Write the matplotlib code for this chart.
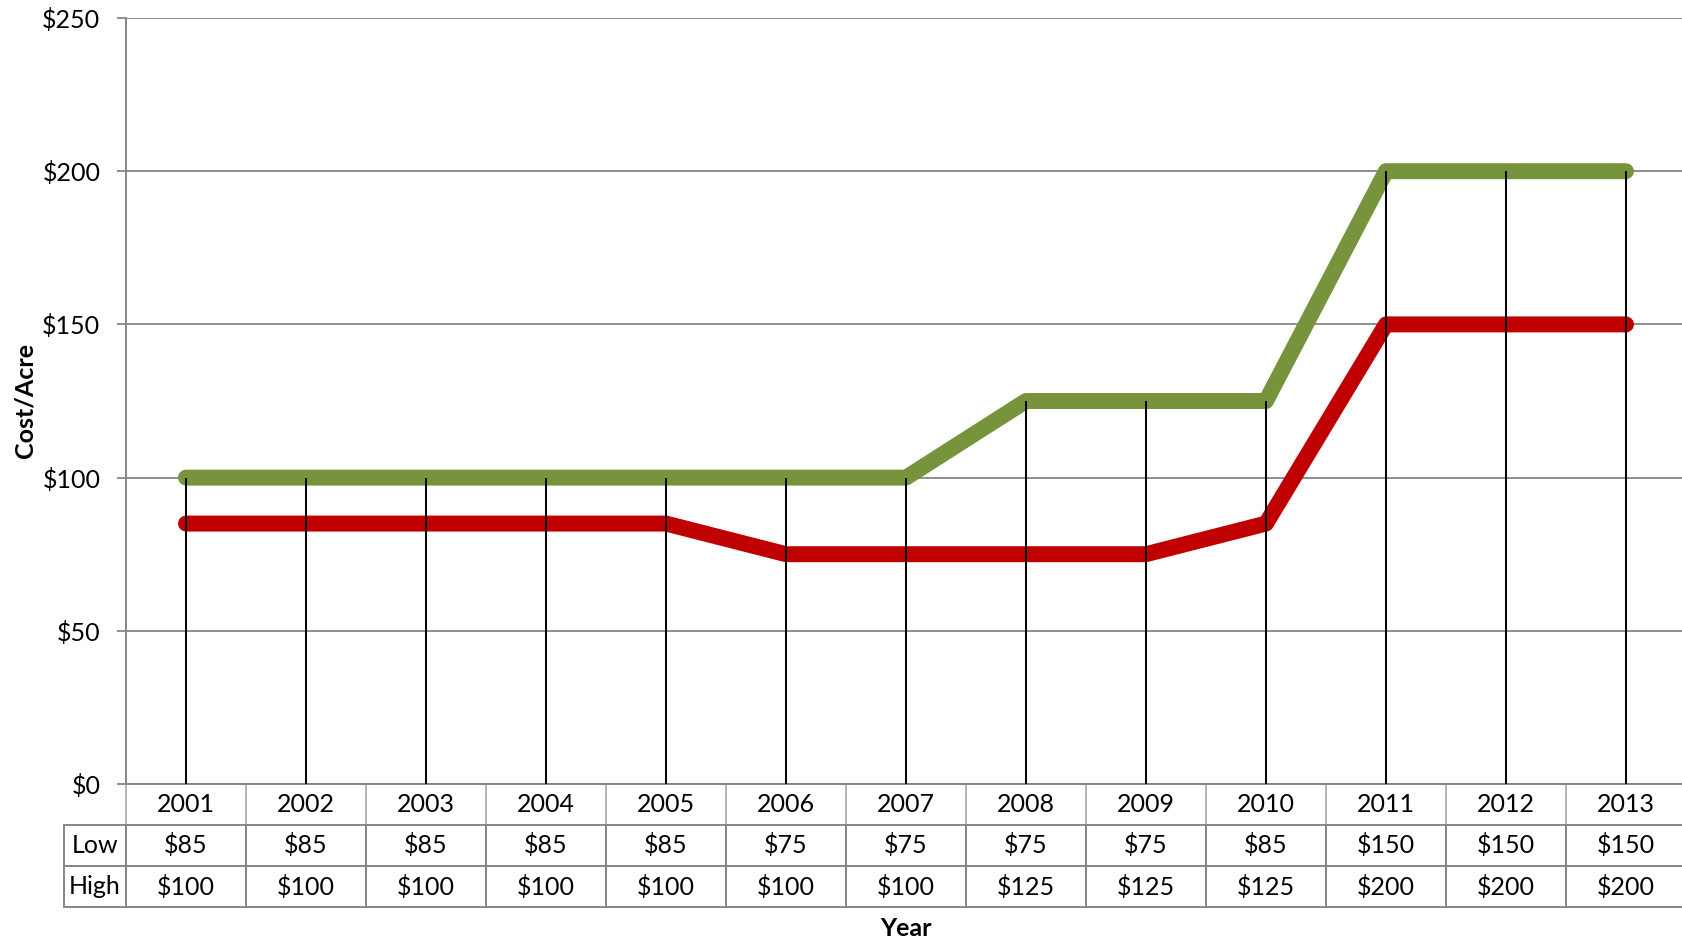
import matplotlib.pyplot as plt
from matplotlib.ticker import FuncFormatter

plt.rcParams["font.family"] = ["Lato", "DejaVu Sans"]

# Chart data
years = ["2001", "2002", "2003", "2004", "2005", "2006", "2007",
         "2008", "2009", "2010", "2011", "2012", "2013"]
low = [85, 85, 85, 85, 85, 75, 75, 75, 75, 85, 150, 150, 150]
high = [100, 100, 100, 100, 100, 100, 100, 125, 125, 125, 200, 200, 200]

green = "#77933C"
red = "#C00000"
grey = "#868686"

fig = plt.figure(figsize=(16.82, 9.42), dpi=100)
# plot area runs a little past the right edge, as in the original export
ax = fig.add_axes([126 / 1682, 1 - 784 / 942, 1560 / 1682, 766 / 942])

x = list(range(len(years)))

# Lines
ax.plot(x, low, color=red, linewidth=11.5, solid_capstyle="round",
        solid_joinstyle="round", zorder=3)
ax.plot(x, high, color=green, linewidth=11.5, solid_capstyle="round",
        solid_joinstyle="round", zorder=3)

# Drop lines from the highest point down to the axis
tops = [max(a, b) for a, b in zip(low, high)]
ax.vlines(x, 0, tops, color="black", linewidth=1.4, zorder=4)

# Axes styling
ax.set_xlim(-0.5, len(years) - 0.5)
ax.set_ylim(0, 250)
ax.set_yticks([0, 50, 100, 150, 200, 250])
ax.yaxis.set_major_formatter(FuncFormatter(lambda v, p: f"${int(v)}"))
ax.yaxis.grid(True, color=grey, linewidth=1.3, zorder=0)
ax.set_axisbelow(True)
ax.set_xticks([])
ax.tick_params(axis="y", length=6.5, width=1.3, color=grey, pad=12,
               labelsize=18)
for side in ["top", "right"]:
    ax.spines[side].set_visible(False)
for side in ["left", "bottom"]:
    ax.spines[side].set_color(grey)
    ax.spines[side].set_linewidth(1.4)

# Data table under the chart
cell_text = [["Low"] + [f"${v}" for v in low],
             ["High"] + [f"${v}" for v in high]]
col_widths = [62] + [120] * len(years)
tbl_left = (64 - 126) / 1560
tbl_h = (907 - 784) / 766
table = ax.table(cellText=cell_text, colLabels=[""] + years,
                 colWidths=col_widths, cellLoc="center",
                 bbox=[tbl_left, -tbl_h, 1 - tbl_left, tbl_h])
table.auto_set_font_size(False)
table.set_fontsize(18)
for (r, c), cell in table.get_celld().items():
    cell.set_linewidth(1.4)
    cell.set_edgecolor(grey)
    if r == 0:
        if c == 0:
            cell.visible_edges = ""
        else:
            cell.visible_edges = "LR"
            cell.set_edgecolor("#b8b8b8")
    if c == 0 and r > 0:
        cell._loc = "left"

# Axis titles
fig.text(25 / 1682, 1 - 401 / 942, "Cost/Acre", rotation=90, ha="center",
         va="center", fontsize=18, fontweight="bold")
fig.text(906 / 1682, 1 - 929 / 942, "Year", ha="center", va="center",
         fontsize=18, fontweight="bold")

plt.savefig("out.png", dpi=100)
